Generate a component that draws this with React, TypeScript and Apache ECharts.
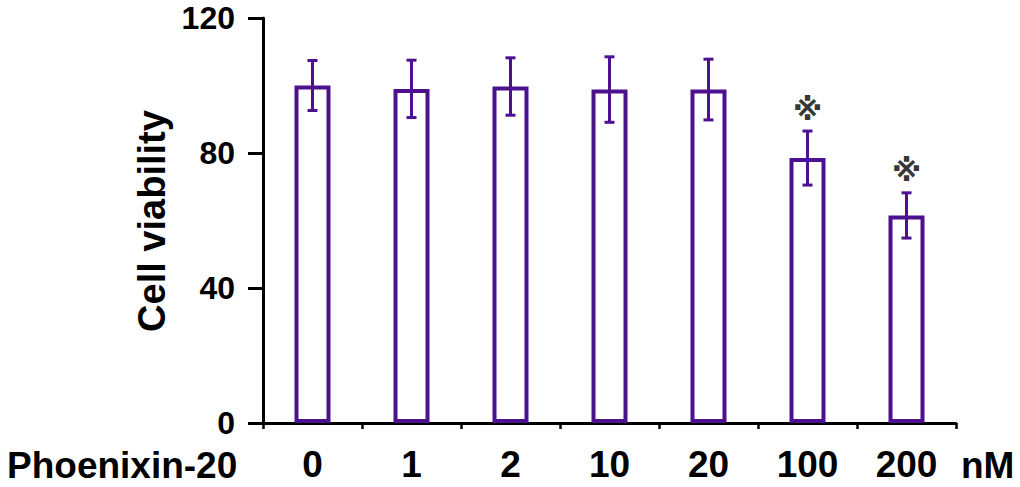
import React, { useEffect, useRef } from "react";
import * as echarts from "echarts";

const categories = ["0", "1", "2", "10", "20", "100", "200"];
const means = [100, 99, 99.7, 98.8, 98.8, 78.5, 61.5];
const errors = [7.4, 8.5, 8.5, 9.7, 9, 8, 6.7];
const significance = ["", "", "", "", "", "※", "※"];
const yTicks = { min: 0, max: 120, interval: 40 };

const PURPLE = "#4B118F";
const FONT = "'Liberation Sans', Arial, sans-serif";

export default function App() {
  const ref = useRef<HTMLDivElement>(null);

  useEffect(() => {
    if (!ref.current) return;
    const chart = echarts.init(ref.current, null, { renderer: "svg" });

    const errData = categories.map((_, i) => [i, means[i] - errors[i], means[i] + errors[i]]);
    const sigData = categories
      .map((_, i) => ({ value: [i, means[i] + errors[i]], mark: significance[i] }))
      .filter((d) => d.mark !== "");

    chart.setOption({
      animation: false,
      grid: { left: 263, right: 64, top: 18, bottom: 64, containLabel: false },
      xAxis: {
        type: "category",
        data: categories,
        axisLine: { show: true, lineStyle: { color: "#000", width: 3 } },
        axisTick: { show: true, length: 6, lineStyle: { color: "#000", width: 2.5 } },
        axisLabel: {
          color: "#000",
          fontSize: 37,
          fontWeight: "bold",
          fontFamily: FONT,
          margin: 23,
        },
        splitLine: { show: false },
      },
      yAxis: {
        type: "value",
        min: yTicks.min,
        max: yTicks.max,
        interval: yTicks.interval,
        axisLine: { show: true, lineStyle: { color: "#000", width: 3 } },
        axisTick: { show: true, length: 15, lineStyle: { color: "#000", width: 3 } },
        axisLabel: {
          color: "#000",
          fontSize: 32,
          lineHeight: 28,
          fontWeight: "bold",
          fontFamily: FONT,
          margin: 28,
        },
        splitLine: { show: false },
      },
      series: [
        {
          type: "bar",
          data: means,
          barWidth: 36,
          itemStyle: { color: "#fff", borderColor: PURPLE, borderWidth: 4 },
          z: 3,
        },
        {
          type: "custom",
          data: errData,
          z: 4,
          renderItem: (params: any, api: any) => {
            const x = api.value(0);
            const lo = api.coord([x, api.value(1)]);
            const hi = api.coord([x, api.value(2)]);
            const cap = 5;
            const style = { stroke: PURPLE, lineWidth: 3 };
            return {
              type: "group",
              children: [
                { type: "line", shape: { x1: hi[0], y1: hi[1], x2: lo[0], y2: lo[1] }, style },
                { type: "line", shape: { x1: hi[0] - cap, y1: hi[1], x2: hi[0] + cap, y2: hi[1] }, style },
                { type: "line", shape: { x1: lo[0] - cap, y1: lo[1], x2: lo[0] + cap, y2: lo[1] }, style },
              ],
            };
          },
        },
        {
          type: "scatter",
          data: sigData.map((d) => ({ value: d.value, mark: d.mark })),
          symbolSize: 0,
          z: 5,
          label: {
            show: true,
            position: "top",
            distance: 7,
            formatter: (p: any) => p.data.mark,
            color: "#000",
            fontSize: 30,
            fontWeight: "bold",
            fontFamily: "'DejaVu Sans', 'Noto Sans CJK SC', sans-serif",
          },
        },
      ],
      graphic: [
        {
          type: "text",
          left: 7,
          top: 447,
          style: {
            text: "Phoenixin-20",
            fill: "#000",
            font: `bold 37px ${FONT}`,
          },
        },
        {
          type: "text",
          left: 961,
          top: 447,
          style: {
            text: "nM",
            fill: "#000",
            font: `bold 37px ${FONT}`,
          },
        },
        {
          type: "text",
          x: 152,
          y: 221,
          rotation: Math.PI / 2,
          style: {
            text: "Cell viability",
            fill: "#000",
            font: `bold 38px ${FONT}`,
            textAlign: "center",
            textVerticalAlign: "middle",
          },
        },
      ],
    });

    return () => chart.dispose();
  }, []);

  return (
    <div
      ref={ref}
      style={{ position: "fixed", left: 0, top: 0, width: 1020, height: 487, background: "#fff" }}
    />
  );
}
